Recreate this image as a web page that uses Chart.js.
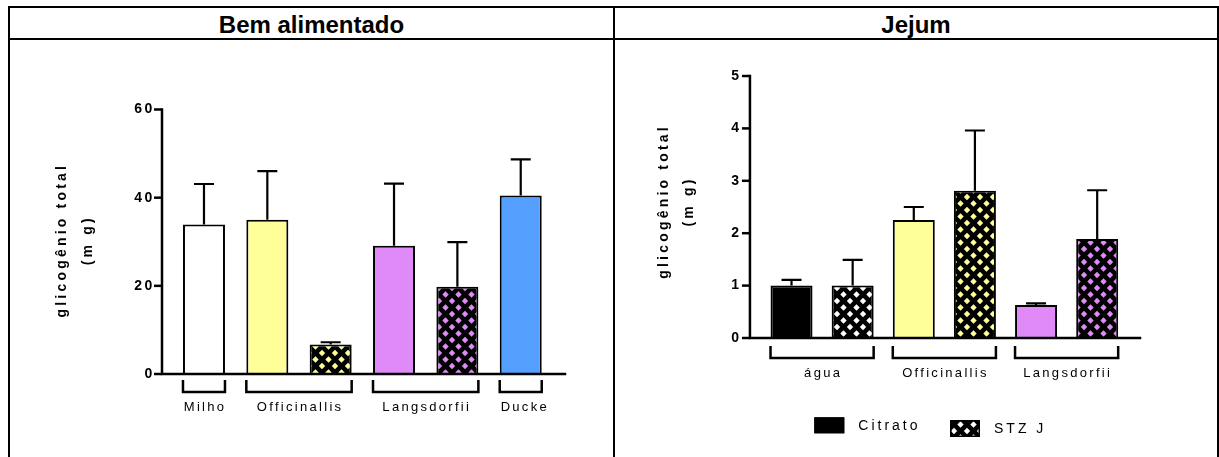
<!DOCTYPE html>
<html>
<head>
<meta charset="utf-8">
<script src="https://cdn.jsdelivr.net/npm/chart.js@4"></script>
<style>
  body{margin:0;background:#fff;width:1219px;height:457px;overflow:hidden;position:relative;font-family:"Liberation Sans",Arial,sans-serif;}
  .linha{position:absolute;background:#000;}
  .cab{position:absolute;top:9px;height:32px;line-height:32px;text-align:center;font-weight:bold;font-size:24px;color:#000;}
  canvas{position:absolute;}
</style>
</head>
<body>
<div class="linha" style="left:8px;top:6px;width:1211px;height:2px"></div>
<div class="linha" style="left:8px;top:38px;width:1211px;height:2px"></div>
<div class="linha" style="left:8px;top:6px;width:2px;height:451px"></div>
<div class="linha" style="left:613px;top:6px;width:2px;height:451px"></div>
<div class="linha" style="left:1217px;top:6px;width:2px;height:451px"></div>
<div class="cab" style="left:10px;width:603px">Bem alimentado</div>
<div class="cab" style="left:615px;width:602px">Jejum</div>

<canvas id="graficoBem" width="603" height="416" style="left:10px;top:41px"></canvas>
<canvas id="graficoJejum" width="601" height="416" style="left:616px;top:41px"></canvas>

<script>
// ---- dados: Bem alimentado ----
const bemGrupos = ["Milho", "Officinallis", "Langsdorfii", "Ducke"];
const bemGrupoDaBarra = [0, 1, 1, 2, 2, 3];
const bemMedias = [33.9, 35.0, 6.7, 29.1, 19.8, 40.5];
const bemDesvios = [9.2, 11.0, 0.5, 14.1, 10.1, 8.2];
const bemCores = ["#ffffff", "#ffff99", "#ffff99", "#df8af7", "#df8af7", "#559fff"];
const bemHachura = [false, false, true, false, true, false];

// ---- dados: Jejum ----
const jejumGrupos = ["água", "Officinallis", "Langsdorfii"];
const series = ["Citrato", "STZ J"];
const citratoMedias = [1.0, 2.25, 0.63];
const citratoDesvios = [0.11, 0.25, 0.03];
const stzMedias = [1.0, 2.81, 1.89];
const stzDesvios = [0.49, 1.15, 0.93];
const citratoCores = ["#000000", "#ffff99", "#df8af7"];
const stzCores = ["#ffffff", "#ffff99", "#df8af7"];

const FONTE = '"Liberation Sans", Arial, sans-serif';

/* hachura: fundo preto com losangos coloridos */
function padrao(cor){
  const c = document.createElement("canvas");
  c.width = 13; c.height = 13;
  const g = c.getContext("2d");
  g.fillStyle = "#000";
  g.fillRect(0, 0, 13, 13);
  g.fillStyle = cor;
  const r = 3.2;
  [[6.5,6.5],[0,0],[13,0],[0,13],[13,13]].forEach(([cx,cy]) => {
    g.beginPath();
    g.moveTo(cx, cy - r); g.lineTo(cx + r, cy); g.lineTo(cx, cy + r); g.lineTo(cx - r, cy);
    g.closePath(); g.fill();
  });
  return g.createPattern(c, "repeat");
}

/* =========================
   eixos, barras de erro, chaves, titulo do eixo
=========================*/
const painel = {
  id: "painel",
  beforeDraw(chart){
    chart.ctx.letterSpacing = "2.5px";
  },
  afterDraw(chart){
    const o = chart.options.plugins.painel;
    const ctx = chart.ctx;
    const ys = chart.scales.y, area = chart.chartArea;
    const y0 = ys.getPixelForValue(0);
    const eixoX = area.left - o.folga;

    ctx.save();
    ctx.strokeStyle = "#000";
    ctx.fillStyle = "#000";

    // barras de erro
    ctx.lineWidth = 2.2;
    chart.data.datasets.forEach((ds, i) => {
      const meta = chart.getDatasetMeta(i);
      meta.data.forEach((bar, j) => {
        const topo = ys.getPixelForValue(ds.data[j] + ds.desvios[j]);
        ctx.beginPath();
        ctx.moveTo(bar.x, bar.y);
        ctx.lineTo(bar.x, topo);
        ctx.moveTo(bar.x - 10, topo);
        ctx.lineTo(bar.x + 10, topo);
        ctx.stroke();
      });
    });

    // eixos
    ctx.lineWidth = 2.5;
    ctx.lineCap = "square";
    ctx.beginPath();
    ctx.moveTo(eixoX, ys.getPixelForValue(ys.max));
    ctx.lineTo(eixoX, y0);
    ctx.lineTo(area.right + o.sobra, y0);
    ctx.stroke();
    ctx.lineCap = "butt";
    ys.ticks.forEach(t => {
      const py = ys.getPixelForValue(t.value);
      ctx.beginPath();
      ctx.moveTo(eixoX - 8, py);
      ctx.lineTo(eixoX, py);
      ctx.stroke();
    });

    // chaves dos grupos
    const barras = [];
    chart.data.datasets.forEach((ds, i) => {
      chart.getDatasetMeta(i).data.forEach((bar, j) => barras.push({j, bar}));
    });
    ctx.font = "13px " + FONTE;
    ctx.letterSpacing = "2.3px";
    ctx.textAlign = "center";
    ctx.textBaseline = "middle";
    o.grupos.forEach((nome, g) => {
      const doGrupo = barras.filter(b => o.grupoDaBarra[b.j] === g);
      const esq = Math.min(...doGrupo.map(b => b.bar.x - b.bar.width / 2));
      const dir = Math.max(...doGrupo.map(b => b.bar.x + b.bar.width / 2));
      const t = y0 + o.chaveTopo, b = t + 12;
      ctx.beginPath();
      ctx.moveTo(esq, t);
      ctx.lineTo(esq, b);
      ctx.lineTo(dir, b);
      ctx.lineTo(dir, t);
      ctx.stroke();
      ctx.fillText(nome, (esq + dir) / 2 + 1.1 + (o.rotuloDx[g] || 0), y0 + o.rotuloY);
    });

    // titulo do eixo y
    ctx.font = "bold 14px " + FONTE;
    ctx.letterSpacing = "3.2px";
    const cy = (area.top + area.bottom) / 2 + o.tituloDy;
    o.titulo.forEach((linha, k) => {
      ctx.save();
      ctx.translate(o.tituloX[k], cy);
      ctx.rotate(-Math.PI / 2);
      ctx.fillText(linha, 1.6, 0);
      ctx.restore();
    });

    // legenda
    if (o.legenda){
      ctx.font = "14px " + FONTE;
      ctx.letterSpacing = "3px";
      ctx.textAlign = "left";
      o.legenda.forEach(it => {
        ctx.fillStyle = it.fill;
        ctx.fillRect(it.x, it.y, 30, it.h);
        ctx.lineWidth = 1.5;
        ctx.strokeRect(it.x + 0.75, it.y + 0.75, 28.5, it.h - 1.5);
        ctx.fillStyle = "#000";
        ctx.fillText(it.texto, it.x + 44, it.y + it.h / 2 + 1);
      });
    }
    ctx.restore();
  }
};

function escalas(min, max, passo, larguraY, alturaX, pad){
  return {
    x: {
      ticks: {display: false},
      grid: {display: false},
      border: {display: false},
      afterFit: s => { s.height = alturaX; }
    },
    y: {
      min: min, max: max,
      ticks: {stepSize: passo, color: "#000", padding: pad, font: {family: FONTE, size: 14, weight: "bold"}},
      grid: {display: false},
      border: {display: false},
      afterFit: s => { s.width = larguraY; }
    }
  };
}

/* =========================
   BEM ALIMENTADO
=========================*/
new Chart(document.getElementById("graficoBem"), {
  type: "bar",
  data: {
    labels: bemGrupoDaBarra.map(g => bemGrupos[g]),
    datasets: [{
      data: bemMedias,
      desvios: bemDesvios,
      backgroundColor: bemCores.map((c, i) => bemHachura[i] ? padrao(c) : c),
      borderColor: "#000",
      borderWidth: 2,
      barPercentage: 0.663,
      categoryPercentage: 1
    }]
  },
  options: {
    responsive: false,
    animation: false,
    events: [],
    layout: {padding: {top: 68.5, right: 60.6, left: 0, bottom: 0}},
    scales: escalas(0, 60, 20, 162.3, 83, 9.5),
    plugins: {
      legend: {display: false},
      tooltip: {enabled: false},
      painel: {
        folga: 10.3, sobra: 12.6, chaveTopo: 6, rotuloY: 33,
        grupos: bemGrupos, grupoDaBarra: bemGrupoDaBarra, rotuloDx: [0, 0, 0, 3],
        titulo: ["glicogênio total", "(m g)"], tituloX: [52, 78], tituloDy: 0
      }
    }
  },
  plugins: [painel]
});

/* =========================
   JEJUM
=========================*/
new Chart(document.getElementById("graficoJejum"), {
  type: "bar",
  data: {
    labels: jejumGrupos,
    datasets: [{
      label: series[0],
      data: citratoMedias,
      desvios: citratoDesvios,
      backgroundColor: citratoCores,
      borderColor: "#000",
      borderWidth: 2,
      barPercentage: 0.687,
      categoryPercentage: 1
    }, {
      label: series[1],
      data: stzMedias,
      desvios: stzDesvios,
      backgroundColor: stzCores.map(c => padrao(c)),
      borderColor: "#000",
      borderWidth: 2,
      barPercentage: 0.687,
      categoryPercentage: 1
    }]
  },
  options: {
    responsive: false,
    animation: false,
    events: [],
    layout: {padding: {top: 35, right: 89.25, left: 0, bottom: 0}},
    scales: escalas(0, 5, 1, 144.95, 119, 11.45),
    plugins: {
      legend: {display: false},
      tooltip: {enabled: false},
      painel: {
        folga: 11, sobra: 12.25, chaveTopo: 8, rotuloY: 35,
        grupos: jejumGrupos, grupoDaBarra: [0, 1, 2], rotuloDx: [0, 0, 0],
        titulo: ["glicogênio total", "(m g)"], tituloX: [48, 73], tituloDy: -4,
        legenda: [
          {texto: series[0], fill: "#000", x: 198.3, y: 376.3, h: 16},
          {texto: series[1], fill: padrao("#ffffff"), x: 334, y: 379, h: 17}
        ]
      }
    }
  },
  plugins: [painel]
});
</script>
</body>
</html>
